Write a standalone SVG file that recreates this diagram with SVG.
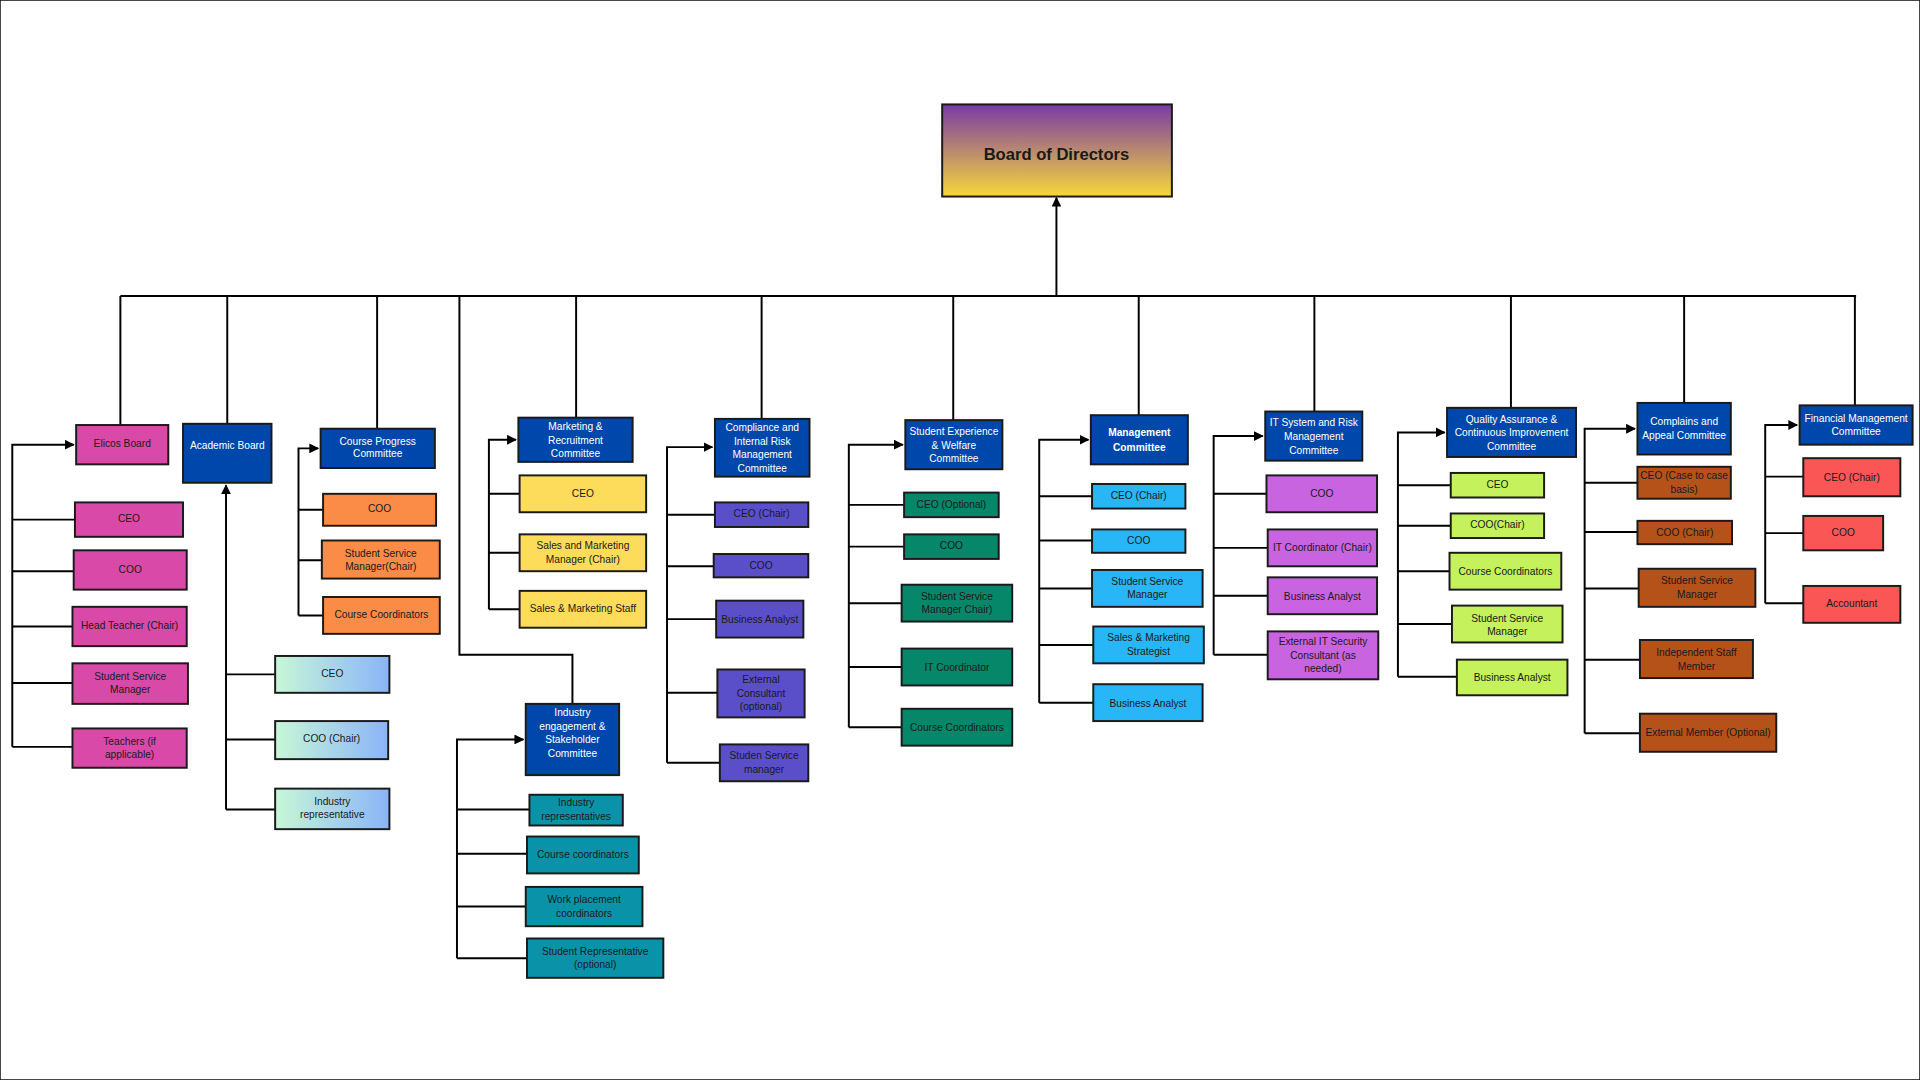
<svg xmlns="http://www.w3.org/2000/svg" width="1920" height="1080" viewBox="0 0 1920 1080">
<defs>
<linearGradient id="gb" x1="0" y1="0" x2="0" y2="1"><stop offset="0" stop-color="#7a3aa6"/><stop offset="1" stop-color="#f7d73a"/></linearGradient>
<linearGradient id="gm" x1="0" y1="0" x2="1" y2="0"><stop offset="0" stop-color="#c8f7d8"/><stop offset="1" stop-color="#8ab4f8"/></linearGradient>
<marker id="ar" viewBox="0 0 10 10" refX="9" refY="5" markerWidth="5" markerHeight="5" orient="auto"><path d="M0,0L10,5L0,10z" fill="#000"/></marker>
<style>
rect{stroke:#1a1a1a;stroke-width:1.6}
.ln{fill:none;stroke:#000;stroke-width:1.6}
text{font-family:"Liberation Sans",Arial,sans-serif;font-size:8.3px;text-anchor:middle;dominant-baseline:middle;fill:#1a1a1a}
.h{fill:#0047ab}.h+text,.w{fill:#fff}
.pk{fill:#d94aa8}.or{fill:#fb8c47}.ye{fill:#fddc5c}.tl{fill:#0a93a8}.pu{fill:#5b4fc9}.gr{fill:#06876a}.lb{fill:#29b6f6}.vi{fill:#c964e0}.li{fill:#c4f15c}.br{fill:#b5521a}.rd{fill:#fb5656}
</style>
</defs>
<rect width="1920" height="1080" fill="#fff" stroke="none"/>
<g transform="scale(1.2284)">
<g id="connectors">
<path class="ln" d="M860,241V161" marker-end="url(#ar)"/>
<path class="ln" d="M98,241H1511"/>
<path class="ln" d="M98,241V346M185,241V345M307,241V349M469,241V340M620,241V341M776,241V342M927,241V338M1070,241V335M1230,241V332M1371,241V328M1510,241V330"/>
<path class="ln" d="M10,608V362H60" marker-end="url(#ar)"/>
<path class="ln" d="M10,423H61M10,465H60M10,510H59M10,556H59M10,608H59"/>
<path class="ln" d="M184,659V395" marker-end="url(#ar)"/>
<path class="ln" d="M184,549H224M184,602H224M184,659H224"/>
<path class="ln" d="M243,501V365H259" marker-end="url(#ar)"/>
<path class="ln" d="M243,415H263M243,456H262M243,501H263"/>
<path class="ln" d="M374,241V533H466V573"/>
<path class="ln" d="M372,780V602H426" marker-end="url(#ar)"/>
<path class="ln" d="M372,659H431M372,695H429M372,738H428M372,780H429"/>
<path class="ln" d="M398,496V358H420" marker-end="url(#ar)"/>
<path class="ln" d="M398,402H423M398,450H423M398,496H423"/>
<path class="ln" d="M543,621V364H580" marker-end="url(#ar)"/>
<path class="ln" d="M543,419H582M543,461H581M543,504H583M543,564H584M543,621H586"/>
<path class="ln" d="M691,592V362H735" marker-end="url(#ar)"/>
<path class="ln" d="M691,411H736M691,445H736M691,491H734M691,543H734M691,592H734"/>
<path class="ln" d="M846,572V358H886" marker-end="url(#ar)"/>
<path class="ln" d="M846,404H889M846,440H889M846,479H889M846,525H890M846,572H890"/>
<path class="ln" d="M988,533V355H1028" marker-end="url(#ar)"/>
<path class="ln" d="M988,402H1031M988,446H1032M988,485H1032M988,533H1032"/>
<path class="ln" d="M1138,551V352H1176" marker-end="url(#ar)"/>
<path class="ln" d="M1138,395H1181M1138,428H1181M1138,465H1180M1138,508H1182M1138,551H1186"/>
<path class="ln" d="M1290,597V349H1331" marker-end="url(#ar)"/>
<path class="ln" d="M1290,393H1333M1290,433H1333M1290,479H1334M1290,537H1335M1290,597H1335"/>
<path class="ln" d="M1437,491V346H1463" marker-end="url(#ar)"/>
<path class="ln" d="M1437,388H1468M1437,434H1468M1437,491H1468"/>
</g>
<g id="board"><rect x="767" y="85" width="187" height="75" fill="url(#gb)"/><text x="860" y="127" style="font-size:13.5px;font-weight:bold">Board of Directors</text></g>

<g id="elicos"><rect class="pk" x="62" y="346" width="75" height="32"/><text x="99.5" y="362">Elicos Board</text></g>
<g id="e1"><rect class="pk" x="61" y="409" width="88" height="28"/><text x="105" y="423">CEO</text></g>
<g id="e2"><rect class="pk" x="60" y="448" width="92" height="32"/><text x="106" y="464">COO</text></g>
<g id="e3"><rect class="pk" x="59" y="494" width="93" height="32"/><text x="105.5" y="510">Head Teacher (Chair)</text></g>
<g id="e4"><rect class="pk" x="59" y="540" width="94" height="33"/><text x="106" y="551">Student Service</text><text x="106" y="562">Manager</text></g>
<g id="e5"><rect class="pk" x="59" y="593" width="93" height="32"/><text x="105.5" y="604">Teachers (if</text><text x="105.5" y="615">applicable)</text></g>

<g id="academic"><rect class="h" x="149" y="345" width="72" height="48"/><text class="w" x="185" y="363">Academic Board</text></g>
<g id="a1"><rect fill="url(#gm)" x="224" y="534" width="93" height="30"/><text x="270.5" y="549">CEO</text></g>
<g id="a2"><rect fill="url(#gm)" x="224" y="587" width="92" height="31"/><text x="270" y="602">COO (Chair)</text></g>
<g id="a3"><rect fill="url(#gm)" x="224" y="642" width="93" height="33"/><text x="270.5" y="653">Industry</text><text x="270.5" y="664">representative</text></g>

<g id="cpc"><rect class="h" x="261" y="349" width="93" height="32"/><text class="w" x="307.5" y="360">Course Progress</text><text class="w" x="307.5" y="370">Committee</text></g>
<g id="c1"><rect class="or" x="263" y="402" width="92" height="26"/><text x="309" y="415">COO</text></g>
<g id="c2"><rect class="or" x="262" y="440" width="96" height="31"/><text x="310" y="451">Student Service</text><text x="310" y="462">Manager(Chair)</text></g>
<g id="c3"><rect class="or" x="263" y="486" width="95" height="30"/><text x="310.5" y="501">Course Coordinators</text></g>

<g id="industry"><rect class="h" x="428" y="573" width="76" height="58"/><text class="w" x="466" y="581">Industry</text><text class="w" x="466" y="592">engagement &amp;</text><text class="w" x="466" y="603">Stakeholder</text><text class="w" x="466" y="614">Committee</text></g>
<g id="i1"><rect class="tl" x="431" y="647" width="76" height="25"/><text x="469" y="654">Industry</text><text x="469" y="665">representatives</text></g>
<g id="i2"><rect class="tl" x="429" y="681" width="91" height="30"/><text x="474.5" y="696">Course coordinators</text></g>
<g id="i3"><rect class="tl" x="428" y="722" width="95" height="32"/><text x="475.5" y="733">Work placement</text><text x="475.5" y="744">coordinators</text></g>
<g id="i4"><rect class="tl" x="429" y="764" width="111" height="32"/><text x="484.5" y="775">Student Representative</text><text x="484.5" y="786">(optional)</text></g>

<g id="marketing"><rect class="h" x="422" y="340" width="93" height="36"/><text class="w" x="468.5" y="348">Marketing &amp;</text><text class="w" x="468.5" y="359">Recruitment</text><text class="w" x="468.5" y="370">Committee</text></g>
<g id="m1"><rect class="ye" x="423" y="387" width="103" height="30"/><text x="474.5" y="402">CEO</text></g>
<g id="m2"><rect class="ye" x="423" y="435" width="103" height="30"/><text x="474.5" y="445">Sales and Marketing</text><text x="474.5" y="456">Manager (Chair)</text></g>
<g id="m3"><rect class="ye" x="423" y="481" width="103" height="30"/><text x="474.5" y="496">Sales &amp; Marketing Staff</text></g>

<g id="compliance"><rect class="h" x="582" y="341" width="77" height="47"/><text class="w" x="620.5" y="349">Compliance and</text><text class="w" x="620.5" y="360">Internal Risk</text><text class="w" x="620.5" y="371">Management</text><text class="w" x="620.5" y="382">Committee</text></g>
<g id="p1"><rect class="pu" x="582" y="409" width="76" height="20"/><text x="620" y="419">CEO (Chair)</text></g>
<g id="p2"><rect class="pu" x="581" y="451" width="77" height="19"/><text x="619.5" y="461">COO</text></g>
<g id="p3"><rect class="pu" x="583" y="489" width="71" height="30"/><text x="618.5" y="505">Business Analyst</text></g>
<g id="p4"><rect class="pu" x="584" y="545" width="71" height="39"/><text x="619.5" y="554">External</text><text x="619.5" y="565">Consultant</text><text x="619.5" y="576">(optional)</text></g>
<g id="p5"><rect class="pu" x="586" y="606" width="72" height="30"/><text x="622" y="616">Studen Service</text><text x="622" y="627">manager</text></g>

<g id="studexp"><rect class="h" x="737" y="342" width="79" height="40"/><text class="w" x="776.5" y="352">Student Experience</text><text class="w" x="776.5" y="363">&amp; Welfare</text><text class="w" x="776.5" y="374">Committee</text></g>
<g id="s1"><rect class="gr" x="736" y="401" width="77" height="20"/><text x="774.5" y="411">CEO (Optional)</text></g>
<g id="s2"><rect class="gr" x="736" y="435" width="77" height="20"/><text x="774.5" y="445">COO</text></g>
<g id="s3"><rect class="gr" x="734" y="476" width="90" height="30"/><text x="779" y="486">Student Service</text><text x="779" y="497">Manager Chair)</text></g>
<g id="s4"><rect class="gr" x="734" y="528" width="90" height="30"/><text x="779" y="544">IT Coordinator</text></g>
<g id="s5"><rect class="gr" x="734" y="577" width="90" height="30"/><text x="779" y="593">Course Coordinators</text></g>

<g id="mgmt"><rect class="h" x="888" y="338" width="79" height="40"/><text class="w" x="927.5" y="353" style="font-weight:bold">Management</text><text class="w" x="927.5" y="365" style="font-weight:bold">Committee</text></g>
<g id="g1"><rect class="lb" x="889" y="394" width="76" height="20"/><text x="927" y="404">CEO (Chair)</text></g>
<g id="g2"><rect class="lb" x="889" y="431" width="76" height="19"/><text x="927" y="441">COO</text></g>
<g id="g3"><rect class="lb" x="889" y="464" width="90" height="30"/><text x="934" y="474">Student Service</text><text x="934" y="485">Manager</text></g>
<g id="g4"><rect class="lb" x="890" y="510" width="90" height="30"/><text x="935" y="520">Sales &amp; Marketing</text><text x="935" y="531">Strategist</text></g>
<g id="g5"><rect class="lb" x="890" y="557" width="89" height="30"/><text x="934.5" y="573">Business Analyst</text></g>

<g id="itsys"><rect class="h" x="1030" y="335" width="79" height="40"/><text class="w" x="1069.5" y="345">IT System and Risk</text><text class="w" x="1069.5" y="356">Management</text><text class="w" x="1069.5" y="367">Committee</text></g>
<g id="t1"><rect class="vi" x="1031" y="387" width="90" height="30"/><text x="1076" y="402">COO</text></g>
<g id="t2"><rect class="vi" x="1032" y="431" width="89" height="30"/><text x="1076.5" y="446">IT Coordinator (Chair)</text></g>
<g id="t3"><rect class="vi" x="1032" y="470" width="89" height="30"/><text x="1076.5" y="486">Business Analyst</text></g>
<g id="t4"><rect class="vi" x="1032" y="514" width="90" height="39"/><text x="1077" y="523">External IT Security</text><text x="1077" y="534">Consultant (as</text><text x="1077" y="545">needed)</text></g>

<g id="qa"><rect class="h" x="1178" y="332" width="105" height="40"/><text class="w" x="1230.5" y="342">Quality Assurance &amp;</text><text class="w" x="1230.5" y="353">Continuous Improvement</text><text class="w" x="1230.5" y="364">Committee</text></g>
<g id="q1"><rect class="li" x="1181" y="385" width="76" height="20"/><text x="1219" y="395">CEO</text></g>
<g id="q2"><rect class="li" x="1181" y="418" width="76" height="20"/><text x="1219" y="428">COO(Chair)</text></g>
<g id="q3"><rect class="li" x="1180" y="450" width="91" height="30"/><text x="1225.5" y="466">Course Coordinators</text></g>
<g id="q4"><rect class="li" x="1182" y="493" width="90" height="30"/><text x="1227" y="504">Student Service</text><text x="1227" y="515">Manager</text></g>
<g id="q5"><rect class="li" x="1186" y="537" width="90" height="29"/><text x="1231" y="552">Business Analyst</text></g>

<g id="complains"><rect class="h" x="1333" y="328" width="76" height="42"/><text class="w" x="1371" y="344">Complains and</text><text class="w" x="1371" y="355">Appeal Committee</text></g>
<g id="b1"><rect class="br" x="1333" y="380" width="76" height="26"/><text x="1371" y="388">CEO (Case to case</text><text x="1371" y="399">basis)</text></g>
<g id="b2"><rect class="br" x="1333" y="424" width="77" height="19"/><text x="1371.5" y="434">COO (Chair)</text></g>
<g id="b3"><rect class="br" x="1334" y="463" width="95" height="31"/><text x="1381.5" y="473">Student Service</text><text x="1381.5" y="485">Manager</text></g>
<g id="b4"><rect class="br" x="1335" y="521" width="92" height="31"/><text x="1381" y="532">Independent Staff</text><text x="1381" y="543">Member</text></g>
<g id="b5"><rect class="br" x="1335" y="581" width="111" height="31"/><text x="1390.5" y="597">External Member (Optional)</text></g>

<g id="financial"><rect class="h" x="1465" y="330" width="92" height="32"/><text class="w" x="1511" y="341">Financial Management</text><text class="w" x="1511" y="352">Committee</text></g>
<g id="f1"><rect class="rd" x="1468" y="373" width="79" height="31"/><text x="1507.5" y="389">CEO (Chair)</text></g>
<g id="f2"><rect class="rd" x="1468" y="420" width="65" height="28"/><text x="1500.5" y="434">COO</text></g>
<g id="f3"><rect class="rd" x="1468" y="477" width="79" height="30"/><text x="1507.5" y="492">Accountant</text></g>
</g>
</svg>
